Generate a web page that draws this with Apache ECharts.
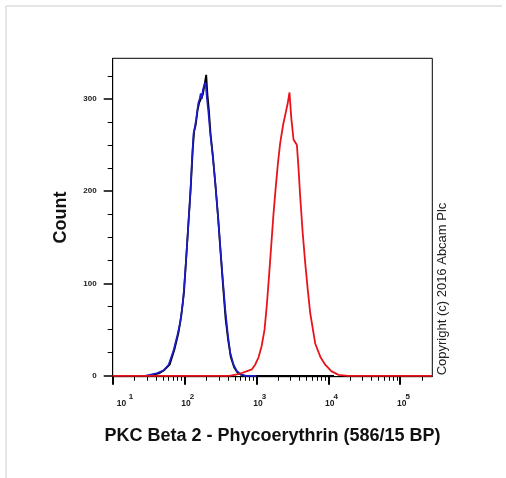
<!DOCTYPE html>
<html><head><meta charset="utf-8">
<script src="https://cdn.jsdelivr.net/npm/echarts@6/dist/echarts.min.js"></script>
<style>html,body{margin:0;padding:0;background:#fff}#c{width:506px;height:478px}</style>
</head><body><div id="c"></div>
<script>
// ---- data (channel value on log scale, event count) ----
const xTitle = 'PKC Beta 2 - Phycoerythrin (586/15 BP)';
const yTitle = 'Count';
const copyright = 'Copyright (c) 2016 Abcam Plc';
const xMin = 10, xMax = 280000;
const yMin = -1, yMax = 344;
const xMajorTicks = [10, 100, 1000, 10000, 100000];
const xMinorTicks = [20,30,40,50,60,70,80,90, 200,300,400,500,600,700,800,900,
  2000,3000,4000,5000,6000,7000,8000,9000, 20000,30000,40000,50000,60000,70000,80000,90000, 200000];
const xTickBase = '10';
const xTickExponents = ['1', '2', '3', '4', '5'];
const yMajorTicks = [0, 100, 200, 300];
const yMinorTicks = [25, 50, 75, 125, 150, 175, 225, 250, 275, 325];

const blackX = [30,36,45,52,62,72,82,90,98,105,113,122,130,136,143,152,160,170,180,192,200,208,218,230,248,270,294,318,345,372,405,440,490,550,620,720,1000,3000,12000];
const blackY = [0,1,3,6,12,28,46,65,90,125,165,205,245,265,272,288,296,298,305,318,326,305,288,262,238,205,170,132,95,62,38,20,9,3,1,0,0,0,0];

const blueX = [28,33,42,51,60,70,80,87,95,102,110,120,127,133,138,145,155,162,168,174,180,188,196,205,215,228,245,267,290,314,340,368,400,432,480,535,600,680,800,1000];
const blueY = [0,1,3,6,12,27,45,58,80,112,150,195,235,262,268,278,295,300,306,300,310,315,318,300,285,262,240,210,175,140,105,72,45,25,12,5,2,0,0,0];

const redX = [10,300,420,540,628,740,865,960,1070,1180,1297,1400,1507,1620,1730,1860,1990,2140,2350,2570,2720,2884,3050,3280,3656,3850,4065,4400,4775,5200,5600,6575,7800,9060,11000,13870,18900,280000];
const redY = [0,0,0,1.5,3,5,7,12,20,32,50,78,111,145,176,205,230,252,272,286,295,307,280,256,250,225,194,155,122,92,68,35,20,12,5,1,0,0];

// ---- build ----
const lg = v => Math.log10(v);
const pts = (xs, ys) => xs.map((x, i) => [lg(x), ys[i]]);
const FONT = "'Liberation Sans', Arial, sans-serif";
const majorLog = xMajorTicks.map(lg);
const idxOf = v => majorLog.findIndex(t => Math.abs(t - v) < 1e-6);

const chart = echarts.init(document.getElementById('c'), null, {renderer: 'canvas'});
const xRange = {min: lg(xMin), max: lg(xMax)};
const lblFont = {fontFamily: FONT, fontWeight: 'bold', fontSize: 8.5, color: '#1a1a1a'};

chart.setOption({
  backgroundColor: '#ffffff',
  animation: false,
  grid: {left: 112.7, right: 73.7, top: 58.3, bottom: 101.3, show: true,
         borderColor: '#000', borderWidth: 1, backgroundColor: 'transparent', outerBoundsMode: 'none'},
  xAxis: [{
    type: 'value', ...xRange, position: 'bottom',
    name: xTitle, nameLocation: 'middle', nameGap: 50,
    nameTextStyle: {fontFamily: FONT, fontWeight: 'bold', fontSize: 18, color: '#111'},
    axisLine: {show: true, onZero: false, lineStyle: {color: '#000', width: 1}},
    splitLine: {show: false},
    axisTick: {show: true, length: 8, customValues: majorLog, lineStyle: {color: '#000', width: 2}},
    axisLabel: {
      customValues: majorLog, margin: 22,
      formatter: (v) => (idxOf(v) === 0 ? '{f|' : '{b|') + xTickBase + '}',
      rich: {
        b: Object.assign({padding: [0, 0, 0, 3]}, lblFont),
        f: Object.assign({padding: [0, 0, 0, 17.6]}, lblFont)
      }
    }
  }, {
    type: 'value', ...xRange, position: 'bottom',
    axisLine: {show: false}, splitLine: {show: false},
    axisTick: {show: true, length: 5, customValues: xMinorTicks.map(lg), lineStyle: {color: '#000', width: 1}},
    axisLabel: {
      customValues: majorLog, margin: 16,
      formatter: (v) => (idxOf(v) === 0 ? '{t|' : '{s|') + xTickExponents[idxOf(v)] + '}',
      rich: {
        s: Object.assign({padding: [0, 0, 0, 15]}, lblFont, {fontSize: 8}),
        t: Object.assign({padding: [0, 0, 0, 36.6]}, lblFont, {fontSize: 8})
      }
    }
  }],
  yAxis: [{
    type: 'value', min: yMin, max: yMax, position: 'left',
    name: yTitle, nameLocation: 'middle', nameGap: 43,
    nameTextStyle: {fontFamily: FONT, fontWeight: 'bold', fontSize: 18, color: '#111'},
    axisLine: {show: true, onZero: false, lineStyle: {color: '#000', width: 1}},
    splitLine: {show: false},
    axisTick: {show: true, length: 9, customValues: yMajorTicks, lineStyle: {color: '#000', width: 1.5}},
    axisLabel: {customValues: yMajorTicks, margin: 16, fontFamily: FONT, fontWeight: 'bold', fontSize: 8, color: '#1a1a1a'}
  }, {
    type: 'value', min: yMin, max: yMax, position: 'left',
    axisLine: {show: false}, splitLine: {show: false}, axisLabel: {show: false},
    axisTick: {show: true, length: 5, customValues: yMinorTicks, lineStyle: {color: '#000', width: 1}}
  }],
  series: [
    {name: 'Isotype control', type: 'line', data: pts(blackX, blackY), showSymbol: false, clip: false,
     lineStyle: {color: '#000000', width: 1.8}, z: 3},
    {name: 'Unlabelled control', type: 'line', data: pts(blueX, blueY), showSymbol: false, clip: false,
     lineStyle: {color: '#1c1cc8', width: 1.7}, z: 4},
    {name: 'PKC Beta 2', type: 'line', data: pts(redX, redY), showSymbol: false, clip: false,
     lineStyle: {color: '#e8141c', width: 1.8}, z: 5}
  ],
  graphic: [
    {type: 'line', shape: {x1: 6, y1: 6, x2: 502, y2: 6}, style: {stroke: '#dcdcdc', lineWidth: 1.5}, silent: true},
    {type: 'line', shape: {x1: 6, y1: 6, x2: 6, y2: 478}, style: {stroke: '#dcdcdc', lineWidth: 1.5}, silent: true},
    {type: 'text', x: 442, y: 289, rotation: Math.PI / 2,
     style: {text: copyright, fontFamily: FONT, fontSize: 13, fill: '#222', align: 'center', verticalAlign: 'middle'}}
  ]
});
</script>
</body></html>
